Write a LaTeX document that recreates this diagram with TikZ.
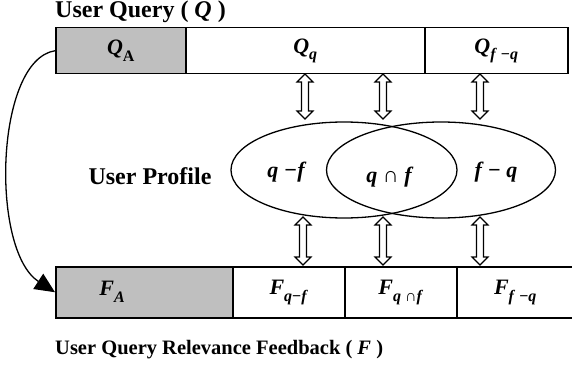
\documentclass[tikz,border=0pt]{standalone}
\usepackage{fontspec}
\setmainfont{Liberation Serif}
\usetikzlibrary{shapes.geometric,arrows.meta,calc}
\newcommand{\sbx}[1]{\raisebox{-0.3em}{\fontsize{16}{16}\selectfont #1}}
% hollow double arrow between two named coordinates (top, bottom) at the same x
\newcommand{\dblarr}[2]{%
  \draw[darr] let \p1=(#1), \p2=(#2) in
    (\x1,\y1) -- (\x1+8pt,\y1-8pt) -- (\x1+3.5pt,\y1-8pt) -- (\x1+3.5pt,\y2+8pt) --
    (\x1+8pt,\y2+8pt) -- (\x1,\y2) -- (\x1-8pt,\y2+8pt) -- (\x1-3.5pt,\y2+8pt) --
    (\x1-3.5pt,\y1-8pt) -- (\x1-8pt,\y1-8pt) -- cycle;}
\begin{document}
\begin{tikzpicture}[x=1pt,y=-1pt,
  cell/.style={draw, line width=1.5pt, minimum height=46pt, inner sep=0pt, anchor=north west,
    font=\fontsize{22}{22}\selectfont\bfseries},
  graycell/.style={cell, fill=gray!50},
  lowcell/.style={minimum height=51pt},
  setell/.style={ellipse, draw, line width=1.3pt, minimum height=96pt, inner sep=0pt},
  setlbl/.style={font=\fontsize{22}{22}\selectfont\bfseries\itshape, inner sep=0pt},
  darr/.style={draw, line width=1.2pt, fill=white, line join=miter},
  title/.style={font=\fontsize{24}{24}\selectfont\bfseries, inner sep=0pt, anchor=base west}]
\useasboundingbox (0,0) rectangle (572,366);

% top bar
\node[graycell, minimum width=130pt] (QA) at (55,27) {\textit{Q}\sbx{A}};
\node[cell, minimum width=239pt] (Qq) at (185,27) {\textit{Q}\sbx{\textit{q}}};
\node[cell, minimum width=143pt] (Qfq) at (424,27) {\textit{Q}\sbx{\textit{f} −\textit{q}}};

% bottom bar
\node[graycell, lowcell, minimum width=177pt] (FA) at (55,266) {};
\node[font=\fontsize{22}{22}\selectfont\bfseries, inner sep=0pt] (FAt) at (112,292) {\textit{F}\sbx{\textit{A}}};
\node[cell, lowcell, minimum width=112pt] (Fqf) at (232,266) {\textit{F}\sbx{\textit{q}−\textit{f}}};
\node[cell, lowcell, minimum width=112pt] (Fqnf) at (344,266) {\textit{F}\sbx{\textit{q} ∩\textit{f}}};
\node[cell, lowcell, minimum width=117pt] (Ffq) at (456,266) {\textit{F}\sbx{\textit{f} −\textit{q}}};

% titles
\node[title] (tq) at (55,18) {User Query ( \textit{Q} )};
\node[title, font=\fontsize{20.5}{20.5}\selectfont\bfseries] (tf) at (55,354) {User Query Relevance Feedback ( \textit{F} )};

% user profile
\node[setell, minimum width=226pt] (EL) at (344,170) {};
\node[setell, minimum width=229pt] (ER) at (441,170) {};
\node[setlbl] (lqf) at (286,172) {q −f};
\node[setlbl] (lqnf) at (389,177) {q ∩ f};
\node[setlbl] (lfq) at (496,172) {f − q};
\node[font=\fontsize{24}{24}\selectfont\bfseries, inner sep=0pt] (up) at (150,176) {User Profile};

% arrow end points
\coordinate (a1t) at (305,74);  \coordinate (a1b) at (305,119);
\coordinate (a2t) at (383,74);  \coordinate (a2b) at (383,119);
\coordinate (a3t) at (480,74);  \coordinate (a3b) at (480,119);
\coordinate (b1t) at (303,217); \coordinate (b1b) at (303,265);
\coordinate (b2t) at (383,217); \coordinate (b2b) at (383,265);
\coordinate (b3t) at (480,217); \coordinate (b3b) at (480,265);
\dblarr{a1t}{a1b}
\dblarr{a2t}{a2b}
\dblarr{a3t}{a3b}
\dblarr{b1t}{b1b}
\dblarr{b2t}{b2b}
\dblarr{b3t}{b3b}

% curved arrow
\draw[line width=1.3pt, -{Triangle[length=20pt,width=18pt]}]
  (QA.west) .. controls (-5,60) and (-10,250) .. (FA.west);
\end{tikzpicture}
\end{document}
